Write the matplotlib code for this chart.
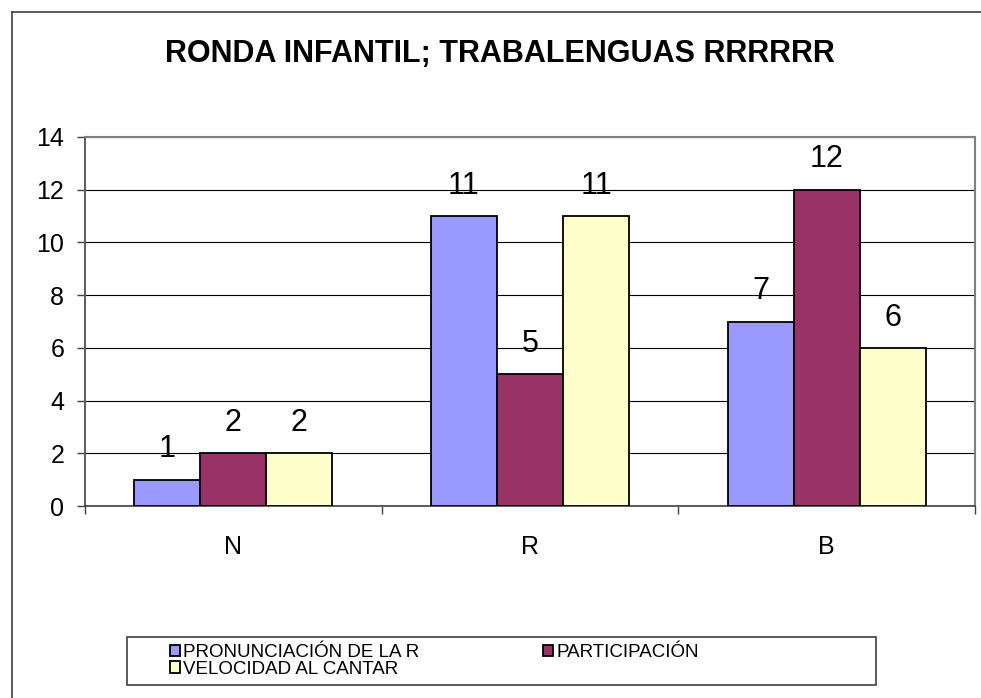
import matplotlib
matplotlib.use("Agg")
import matplotlib.pyplot as plt
import numpy as np
from matplotlib.patches import Rectangle
from matplotlib.lines import Line2D

plt.rcParams['font.family'] = ['Liberation Sans', 'DejaVu Sans']

# datos del gráfico
categorias = ['N', 'R', 'B']
series = ['PRONUNCIACIÓN DE LA R', 'PARTICIPACIÓN', 'VELOCIDAD AL CANTAR']
pronunciacion = [1, 11, 7]
participacion = [2, 5, 12]
velocidad = [2, 11, 6]
colores = ['#9999FF', '#993366', '#FFFFCC']
titulo = 'RONDA INFANTIL; TRABALENGUAS RRRRRR'

W, H = 981, 698
fig = plt.figure(figsize=(W / 100, H / 100), dpi=100)
ax = fig.add_axes([85 / W, 1 - 506 / H, 890 / W, 369 / H])

x = np.arange(len(categorias))
ancho = 0.2225
valores = [pronunciacion, participacion, velocidad]
barras = []
for i, (vals, col, nombre) in enumerate(zip(valores, colores, series)):
    b = ax.bar(x + (i - 1) * ancho, vals, ancho, color=col, edgecolor='black',
               linewidth=1.3, label=nombre, zorder=3)
    ax.bar_label(b, padding=11, fontsize=22)
    barras.append(b)

ax.set_xlim(-0.5, 2.5)
ax.set_ylim(0, 14)
ax.set_yticks(range(0, 15, 2))
ax.yaxis.grid(True, color='black', linewidth=0.8, zorder=0)
ax.set_axisbelow(True)

ax.set_xticks(x)
ax.set_xticklabels(categorias, fontsize=18)
ax.set_xticks([-0.5, 0.5, 1.5, 2.5], minor=True)
ax.tick_params(axis='x', which='major', length=0, pad=21)
ax.tick_params(axis='x', which='minor', length=6, width=1, color='#404040')
ax.tick_params(axis='y', length=6, width=1, color='#404040', pad=9, labelsize=18)

for lado in ['top', 'right']:
    ax.spines[lado].set_color('#808080')
    ax.spines[lado].set_linewidth(1.5)
ax.spines['left'].set_color('#606060')
ax.spines['left'].set_linewidth(1.5)
ax.spines['bottom'].set_color('#404040')
ax.spines['bottom'].set_linewidth(1.2)

fig.text(500 / W, 1 - 62 / H, titulo, ha='center', va='baseline',
         fontsize=22, fontweight='bold')

# leyenda (orden por filas como en Excel)
orden = [0, 2, 1]
leg = fig.legend([barras[i] for i in orden], [series[i] for i in orden],
                 loc='upper left', bbox_to_anchor=(170 / W, 1 - 644 / H),
                 ncol=2, frameon=False, fontsize=13.5, borderpad=0,
                 handlelength=0.55, handleheight=0.55, handletextpad=0.15,
                 labelspacing=-0.02, columnspacing=6.6, borderaxespad=0)

fig.patches.append(Rectangle((127 / W, 1 - 685 / H), 749 / W, 48 / H,
                             transform=fig.transFigure, fill=False,
                             edgecolor='#404040', linewidth=1.2))

# marco exterior
fig.lines.append(Line2D([11.5 / W, 11.5 / W], [0, 1 - 11.5 / H],
                        transform=fig.transFigure, color='#404040', linewidth=1.2))
fig.lines.append(Line2D([11.5 / W, 1], [1 - 11.5 / H, 1 - 11.5 / H],
                        transform=fig.transFigure, color='#404040', linewidth=1.2))

fig.savefig('out.png', dpi=100, facecolor='white')
